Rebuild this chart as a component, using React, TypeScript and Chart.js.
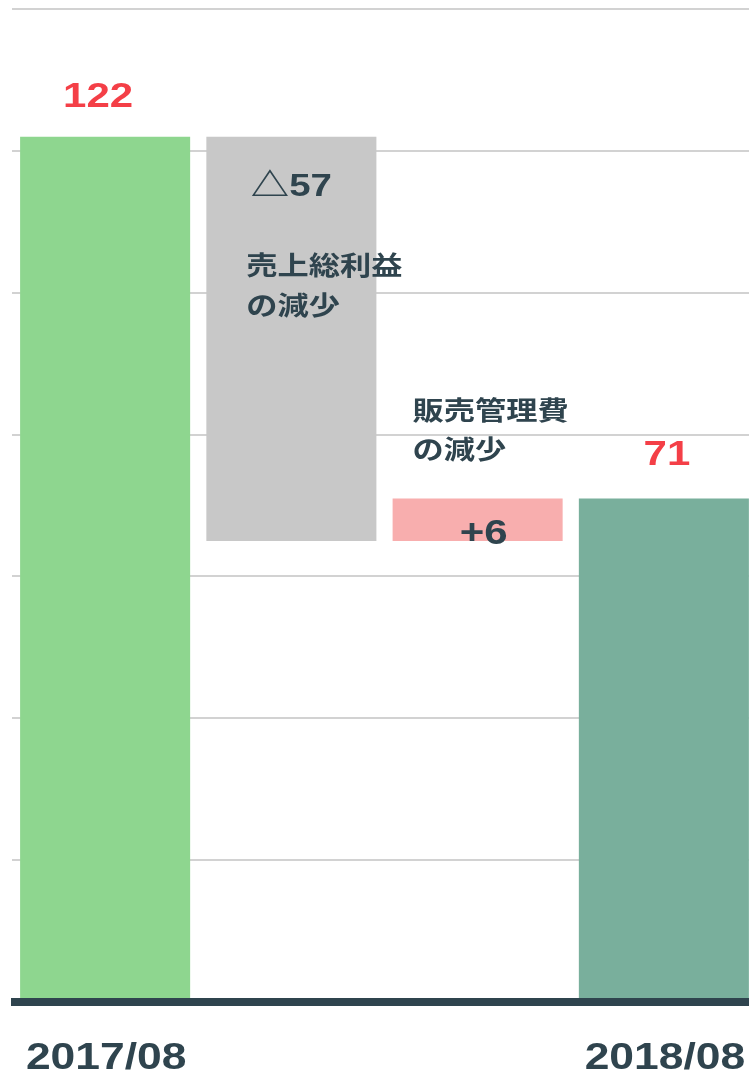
import React, { useEffect, useRef } from "react";
import { Chart, registerables } from "chart.js";

Chart.register(...registerables);

// ---- data ----
const categories = ["2017/08", "売上総利益の減少", "販売管理費の減少", "2018/08"];
const tickLabels = ["2017/08", "", "", "2018/08"];
const startValue = 122;
const changes = [-57, 6];
const endValue = 71;
const valueLabels = ["122", "△57", "+6", "71"];
const noteLabels = [[], ["売上総利益", "の減少"], ["販売管理費", "の減少"], []];
const barColors = ["#8ed68f", "#c8c8c8", "#f8aeae", "#79af9c"];

const yMax = 140;
const yStep = 20;

const DARK = "#2f444e";
const RED = "#f43f47";
const LATIN = "'Liberation Sans', Arial, 'Noto Sans CJK JP', sans-serif";
const CJK = "'Noto Sans CJK JP', 'Liberation Sans', sans-serif";
const STRETCH = 1.2;

function buildRanges(): [number, number][] {
  const ranges: [number, number][] = [[0, startValue]];
  let level = startValue;
  for (const c of changes) {
    const next = level + c;
    ranges.push([Math.min(level, next), Math.max(level, next)]);
    level = next;
  }
  ranges.push([0, endValue]);
  return ranges;
}

function drawStretched(
  ctx: CanvasRenderingContext2D,
  text: string,
  x: number,
  y: number,
  font: string,
  color: string,
  align: CanvasTextAlign
) {
  ctx.save();
  ctx.translate(x, y);
  ctx.scale(STRETCH, 1);
  ctx.font = font;
  ctx.fillStyle = color;
  ctx.textAlign = align;
  ctx.textBaseline = "alphabetic";
  ctx.fillText(text, 0, 0);
  ctx.restore();
}

const labelPlugin = {
  id: "waterfallLabels",
  afterDatasetsDraw(chart: any) {
    const ctx: CanvasRenderingContext2D = chart.ctx;
    const meta = chart.getDatasetMeta(0);
    const area = chart.chartArea;
    const ranges = buildRanges();

    // baseline
    ctx.save();
    ctx.fillStyle = DARK;
    ctx.fillRect(area.left - 1, area.bottom - 4, area.right - area.left + 1, 8);
    ctx.restore();

    meta.data.forEach((bar: any, i: number) => {
      const cx = bar.x;
      const half = bar.width / 2;
      const top = Math.min(bar.y, bar.base);
      const yTop = chart.scales.y.getPixelForValue(ranges[i][1]);

      if (i === 0) {
        drawStretched(ctx, valueLabels[0], cx - 7, yTop - 30, `bold 35px ${LATIN}`, RED, "center");
      } else if (i === 1) {
        drawStretched(ctx, valueLabels[1], cx, top + 59, `bold 32px ${LATIN}`, DARK, "center");
        noteLabels[1].forEach((line, k) =>
          drawStretched(ctx, line, cx - half + 40, top + 138 + k * 40, `bold 26px ${CJK}`, DARK, "left")
        );
      } else if (i === 2) {
        drawStretched(ctx, valueLabels[2], cx + 6, top + 46, `bold 35px ${LATIN}`, DARK, "center");
        noteLabels[2].forEach((line, k) =>
          drawStretched(ctx, line, cx - half + 20, top - 78 + k * 39, `bold 26px ${CJK}`, DARK, "left")
        );
      } else if (i === 3) {
        drawStretched(ctx, valueLabels[3], cx + 3, yTop - 33, `bold 35px ${LATIN}`, RED, "center");
      }

      const t = tickLabels[i];
      if (t) {
        drawStretched(ctx, t, cx + 1, area.bottom + 67, `bold 37px ${LATIN}`, DARK, "center");
      }
    });
  },
};

export default function App() {
  const ref = useRef<HTMLCanvasElement | null>(null);

  useEffect(() => {
    if (!ref.current) return;
    const chart = new Chart(ref.current, {
      type: "bar",
      data: {
        labels: categories,
        datasets: [
          {
            data: buildRanges() as any,
            backgroundColor: barColors,
            borderWidth: 0,
            barPercentage: 0.913,
            categoryPercentage: 1,
          },
        ],
      },
      options: {
        animation: false,
        responsive: false,
        devicePixelRatio: 1,
        layout: { padding: { left: 12, right: 3, top: 9, bottom: 73 } },
        plugins: { legend: { display: false }, tooltip: { enabled: false } },
        scales: {
          x: { display: false },
          y: {
            min: 0,
            max: yMax,
            ticks: { display: false, stepSize: yStep },
            grid: { color: "#d2d2d2", lineWidth: 2, drawTicks: false },
            border: { display: false },
          },
        },
      },
      plugins: [labelPlugin],
    });
    return () => chart.destroy();
  }, []);

  return (
    <div
      style={{
        position: "absolute",
        left: 0,
        top: 0,
        width: 749,
        height: 1075,
        overflow: "hidden",
        background: "#ffffff",
      }}
    >
      <canvas ref={ref} width={760} height={1075} style={{ display: "block" }} />
    </div>
  );
}
